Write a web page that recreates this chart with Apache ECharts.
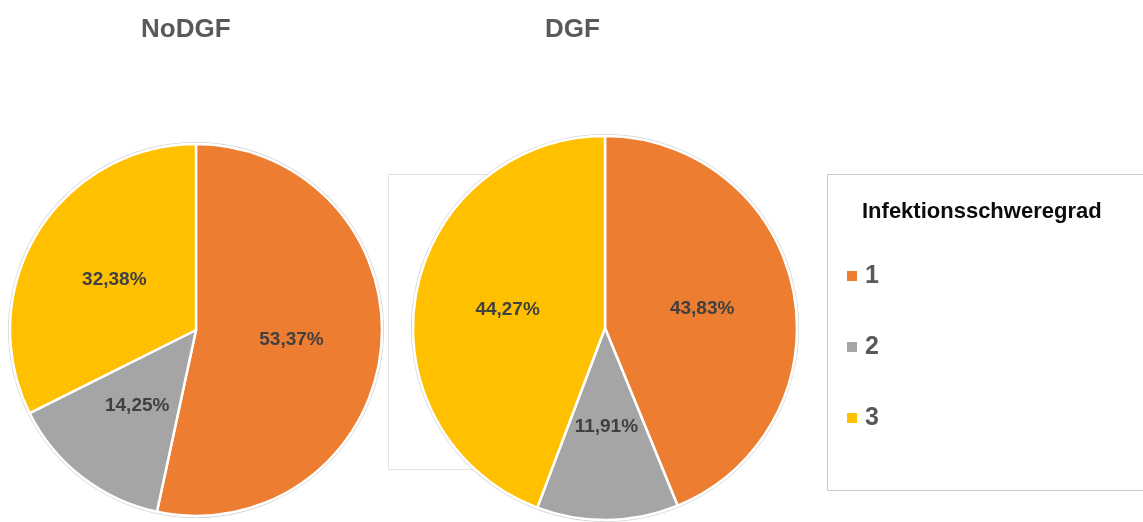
<!DOCTYPE html>
<html>
<head>
<meta charset="utf-8">
<script src="https://cdn.jsdelivr.net/npm/echarts@6/dist/echarts.min.js"></script>
<style>
html,body{margin:0;padding:0;background:#fff;}
#main{width:1143px;height:522px;}
</style>
</head>
<body>
<div id="main"></div>
<script>
// Data
const categories = ['1', '2', '3'];
const noDGFValues = [53.37, 14.25, 32.38];
const dgfValues = [43.83, 11.91, 44.27];
const chartTitles = ['NoDGF', 'DGF'];
const legendTitle = 'Infektionsschweregrad';

const colors = ['#ED7D31', '#A5A5A5', '#FFC000'];
const FONT = '"Liberation Sans", Arial, sans-serif';

function toData(vals) {
  return categories.map((c, i) => ({ name: c, value: vals[i] }));
}
function fmt(p) {
  return p.value.toFixed(2).replace('.', ',') + '%';
}

function pieSeries(vals, center, r) {
  return {
    type: 'pie',
    center: center,
    radius: [0, r],
    startAngle: 90,
    clockwise: true,
    avoidLabelOverlap: false,
    animation: false,
    data: toData(vals),
    itemStyle: { borderColor: '#ffffff', borderWidth: 2.5 },
    label: {
      show: true,
      position: 'inside',
      formatter: fmt,
      fontFamily: FONT,
      fontSize: 19,
      fontWeight: 'bold',
      color: '#404040'
    },
    labelLine: { show: false },
    emphasis: { disabled: true }
  };
}

function ringSeries(center, r) {
  return {
    type: 'pie',
    center: center,
    radius: [r + 1, r + 2],
    silent: true,
    animation: false,
    data: [{ name: 'ring', value: 1 }],
    itemStyle: { color: '#d4d4d4' },
    label: { show: false },
    labelLine: { show: false },
    emphasis: { disabled: true },
    z: 1
  };
}

const chart = echarts.init(document.getElementById('main'));
chart.setOption({
  color: colors,
  title: [
    { text: chartTitles[0], left: 136, top: 12, textStyle: { fontFamily: FONT, fontSize: 26, fontWeight: 'bold', color: '#595959' } },
    { text: chartTitles[1], left: 540, top: 12, textStyle: { fontFamily: FONT, fontSize: 26, fontWeight: 'bold', color: '#595959' } },
    { text: legendTitle, left: 857, top: 196, textStyle: { fontFamily: FONT, fontSize: 22, fontWeight: 'bold', color: '#0d0d0d' } }
  ],
  legend: {
    data: categories,
    orient: 'vertical',
    left: 840,
    top: 258,
    icon: 'rect',
    itemWidth: 12,
    itemHeight: 12,
    itemGap: 45,
    selectedMode: false,
    textStyle: { fontFamily: FONT, fontSize: 25, fontWeight: 'bold', color: '#595959', lineHeight: 26, padding: [0, 0, 0, 2] }
  },
  graphic: [
    { type: 'rect', z: -10, silent: true, shape: { x: 388.5, y: 174.5, width: 300, height: 295 }, style: { fill: 'none', stroke: '#e2e2e2', lineWidth: 1 } },
    { type: 'rect', z: -10, silent: true, shape: { x: 827.5, y: 174.5, width: 330, height: 316 }, style: { fill: '#ffffff', stroke: '#c8c8c8', lineWidth: 1 } }
  ],
  series: [
    ringSeries([196, 330], 186),
    pieSeries(noDGFValues, [196, 330], 186),
    ringSeries([605, 328], 192),
    pieSeries(dgfValues, [605, 328], 192)
  ]
});
</script>
</body>
</html>
